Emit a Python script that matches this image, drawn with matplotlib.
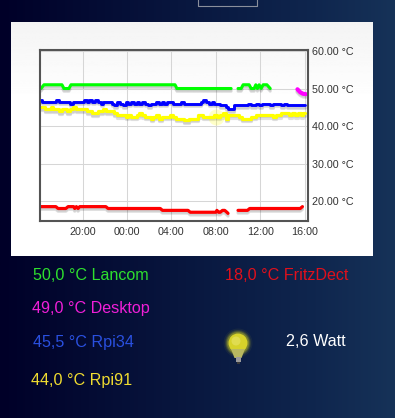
import numpy as np
import matplotlib
matplotlib.use('Agg')
import matplotlib.pyplot as plt
import matplotlib.patheffects as pe
from matplotlib.patches import Rectangle, Circle, Polygon

plt.rcParams['font.family'] = ['Liberation Sans', 'DejaVu Sans']

W, H = 395, 418
nan = float('nan')

# hours counted from the midnight before the chart's first day (24 = 00:00, 40 = 16:00)
tick_hours = [20, 24, 28, 32, 36, 40]
tick_labels = ['20:00', '00:00', '04:00', '08:00', '12:00', '16:00']
y_ticks = [20, 30, 40, 50, 60]
y_labels = ['20.00 °C', '30.00 °C', '40.00 °C', '50.00 °C', '60.00 °C']

lancom_t = [16.26, 16.53, 18.15, 18.33, 18.78, 18.96, 28.33, 28.5, 33.38, 33.5, 34.0, 34.28, 34.46, 35.0,
            35.18, 35.45, 35.6, 35.75, 35.9, 36.08, 36.26, 36.6, 36.75, 36.9]
lancom_v = [50, 51, 51, 50, 50, 51, 51, 50, 50, nan, 50, 50, 51, 51,
            50, 50, 51, 50, 51, 50, 51, 51, 50.5, 50]

desktop_t = [39.35, 39.6, 39.85, 40.1]
desktop_v = [49.8, 49.0, 48.6, 48.5]

fritz_t = [16.26, 17.6, 17.8, 18.5, 18.7, 19.2, 19.3, 19.45, 19.6, 19.75, 22.1, 22.3, 27.0, 27.2, 29.5, 29.7,
           32.0, 32.1, 32.25, 32.4, 32.6, 32.8, 33.0, 33.1, nan, 34.0, 34.85, 35.05, 39.6, 39.8]
fritz_v = [18.5, 18.5, 18, 18, 18.5, 18.5, 18, 18.5, 18, 18.5, 18.5, 18, 18, 17.5, 17.5, 17,
           17, 17.5, 17, 17, 17.5, 17.5, 17, 16.7, nan, 17.5, 17.5, 18, 18, 18.5]

grid_t = np.arange(16.25, 40.25, 0.25)
rpi34_v = [47, 46.5, 46.5, 46.5, 46.5, 46.5, 47, 46.5, 46.5, 46.5, 46.5, 46, 46.5, 46.5, 46.5, 46.5,
           47, 46.5, 47, 46.5, 47, 46.5, 46, 46.5, 46.5, 46.5, 46, 45.5, 46.5, 46, 45.5, 46.5,
           46, 46.5, 46, 46.5, 46, 46.5, 46, 45.5, 46, 46, 46.5, 46, 46.5, 46, 46.5, 46.5,
           46, 46, 46, 46.5, 46, 46, 46, 46, 46, 46, 46.5, 47, 46.5, 46, 46.5, 46, 46,
           45.5, 45.5, 45, 44.5, 44.5, 45.5, 45.5, 45.5, 45.5, 45.5, 46, 45.5, 45.5, 46, 45.5, 46, 46,
           46, 45.5, 46, 46, 46, 45.5, 46, 45.5, 45.5, 45.5, 45.5, 45.5, 45.5, 45.5]
rpi91_v = [45, 45, 44.5, 44.5, 45, 44.5, 44.5, 44, 44.5, 44.5, 44, 44.5, 45, 44.5, 44.5, 44.5,
           44.5, 44, 44, 43.5, 43.5, 44, 44, 44.5, 44, 44, 44, 43.5, 43, 43, 43, 42.5,
           43, 42.5, 42.5, 43, 43.5, 43, 42.5, 42.5, 42, 42.5, 43, 42, 42.5, 42.5, 42.5, 43,
           42.5, 42, 42, 42, 41.5, 41.5, 42, 42, 42, 43, 43, 42.5, 42.5, 42.5, 42.5, 43,
           42.5, 43, 43.5, 42, 43, 43, 43, 43, 42.5, 42, 42, 42, 42.5, 42.5, 43, 43, 43,
           43, 43, 43, 42.5, 43, 43, 43.5, 43.5, 43.5, 43, 43.5, 43, 43.5, 43, 43.5]

legend_items = [('50,0 °C Lancom', 33, 276, '#2ee02e'),
                ('49,0 °C Desktop', 32, 308, '#f01fd8'),
                ('45,5 °C Rpi34', 33, 343, '#2a50e0'),
                ('44,0 °C Rpi91', 31, 380, '#f0dc30'),
                ('18,0 °C FritzDect', 225, 276, '#e0101c'),
                ('2,6 Watt', 286, 342, '#ffffff')]

fig = plt.figure(figsize=(W / 100, H / 100), dpi=100)

# page background
bg = fig.add_axes([0, 0, 1, 1], zorder=0)
bg.set_xlim(0, W); bg.set_ylim(H, 0); bg.axis('off')
gx = np.linspace(0, 1, 200)
cstops = np.array([[0, 0, 40], [8, 22, 62], [15, 38, 78], [22, 50, 88]]) / 255
grad = np.stack([np.interp(gx, [0, .45, .8, 1], cstops[:, i]) for i in range(3)], axis=-1)[None, :, :]
bg.imshow(grad, extent=[0, W, H, 0], aspect='auto', zorder=0)
# white panel with light gradient at top
panel = np.linspace(0.955, 1, 80)[:, None]
bg.imshow(panel, extent=[11, 373, 100, 22], cmap='gray', vmin=0, vmax=1, aspect='auto', zorder=1)
bg.add_patch(Rectangle((11, 100), 362, 156, fc='white', ec='none', zorder=1))
bg.set_xlim(0, W); bg.set_ylim(H, 0)
# small outlined box at the top
bg.plot([197.5, 197.5, 256.5, 256.5], [-1, 5.5, 5.5, -1], color='#8a8f9c', lw=0.8, zorder=2)

# chart
L, R, T, B = 40.3, 308, 50, 220.5
ax = fig.add_axes([L / W, 1 - B / H, (R - L) / W, (B - T) / H], zorder=2)
ax.patch.set_alpha(0)
ax.set_xlim(16.2, 40.3)
ax.set_ylim(14.8, 60.27)
ax.set_xticks(tick_hours, tick_labels)
ax.set_yticks(y_ticks, y_labels)
ax.yaxis.tick_right()
ax.tick_params(length=0, labelsize=7.75, colors='#333333')
ax.tick_params(axis='x', pad=5.0)
ax.tick_params(axis='y', pad=3.0)
ax.grid(True, color='#d6d6d6', lw=0.75)
ax.set_axisbelow(True)
for s in ax.spines.values():
    s.set_color('#545454')
    s.set_linewidth(1.5)

shadow = [pe.SimpleLineShadow(offset=(0, -2.0), shadow_color='k', alpha=0.12),
          pe.SimpleLineShadow(offset=(0, -1.2), shadow_color='k', alpha=0.08), pe.Normal()]
for t, v, c, lw, ds in [(lancom_t, lancom_v, '#00ff00', 2.2, 'default'),
                        (desktop_t, desktop_v, '#ff00ff', 3.0, 'default'),
                        (grid_t, rpi34_v, '#0000ff', 2.1, 'steps-mid'),
                        (grid_t, rpi91_v, '#ffff00', 2.3, 'steps-mid'),
                        (fritz_t, fritz_v, '#ff0000', 2.3, 'default')]:
    ax.plot(t, v, color=c, lw=lw, solid_capstyle='round', solid_joinstyle='round',
            drawstyle=ds, path_effects=shadow)
# hover highlight
ax.plot([32.0], [42.4], 'o', ms=11.5, color='#ffff00', alpha=0.22, mew=0)

# overlay for legend text and bulb
ov = fig.add_axes([0, 0, 1, 1], zorder=3)
ov.set_xlim(0, W); ov.set_ylim(H, 0); ov.axis('off'); ov.patch.set_alpha(0)
for txt, x, y, c in legend_items:
    ov.text(x, y, txt, color=c, fontsize=11.6, va='center', ha='left')

for r, a in [(14.5, .06), (13, .12), (12, .2), (11, .3)]:
    ov.add_patch(Circle((238, 343), r, fc='#d8d820', ec='none', alpha=a))
ov.add_patch(Circle((238, 343), 9.5, fc='#d6d22a', ec='none'))
ov.add_patch(Circle((236, 341), 4.5, fc='#e0dc50', ec='none'))
ov.add_patch(Polygon([[231, 349], [245, 349], [241.5, 358], [234.5, 358]], fc='#b8b860', ec='none'))
ov.add_patch(Rectangle((235.5, 357), 5, 5, fc='#9a9a9a', ec='none'))
ov.add_patch(Rectangle((236.5, 361.5), 3, 2, fc='#3a3a3a', ec='none'))

fig.savefig('out.png', dpi=100)
